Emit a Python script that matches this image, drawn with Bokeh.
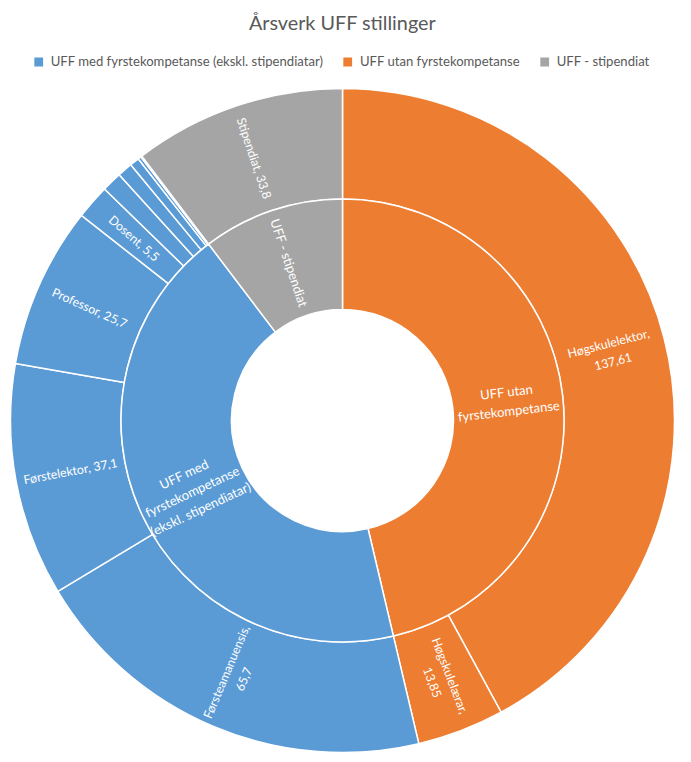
import numpy as np
from bokeh.plotting import figure
from bokeh.models import ColumnDataSource, Range1d, Label, Legend, LegendItem
from bokeh.core.properties import value
from bokeh.embed import file_html
from bokeh.resources import INLINE

# ---------------- data ----------------
chart_title = "Årsverk UFF stillinger"

groups = ["UFF utan fyrstekompetanse",
          "UFF med fyrstekompetanse (ekskl. stipendiatar)",
          "UFF - stipendiat"]
group_labels = ["UFF utan\nfyrstekompetanse",
                "UFF med\nfyrstekompetanse\n(ekskl. stipendiatar)",
                "UFF - stipendiat"]
group_colors = ["#ED7D31", "#5B9BD5", "#A5A5A5"]
legend_order = [1, 0, 2]

outer_names = ["Høgskulelektor", "Høgskulelærar", "Førsteamanuensis",
               "Førstelektor", "Professor", "Dosent", "Forskar",
               "Universitetslektor", "Professor II", "Førsteamanuensis II",
               "Dosent II", "Stipendiat"]
outer_values = [137.61, 13.85, 65.7, 37.1, 25.7, 5.5, 3.2, 2.4, 1.5, 0.5, 0.2, 33.8]
outer_group = [0, 0, 1, 1, 1, 1, 1, 1, 1, 1, 1, 2]
outer_wrap = [True, True, True, False, False, False, False, False, False, False, False, False]

# ---------------- geometry / style ----------------
R0, R1, R2 = 111, 221.5, 332
CX, CY = 342, 420          # centre, px from top-left of the figure
W, H = 682, 756
FONT = "Lato"
TXT = "#595959"


def fmt(v):
    return ("%g" % v).replace(".", ",")


def ring(values):
    vals = np.asarray(values, dtype=float)
    total = vals.sum()
    cum = np.concatenate([[0.0], np.cumsum(vals)])
    start = np.pi / 2 - 2 * np.pi * cum[:-1] / total
    end = np.pi / 2 - 2 * np.pi * cum[1:] / total
    mid = (start + end) / 2
    rot = np.where(np.cos(mid) >= 0, mid, mid + np.pi)
    return start, end, mid, rot


inner_values = [sum(v for v, g in zip(outer_values, outer_group) if g == k) for k in range(len(groups))]

o_start, o_end, o_mid, o_rot = ring(outer_values)
i_start, i_end, i_mid, i_rot = ring(inner_values)

outer_text = []
for n, v, w in zip(outer_names, outer_values, outer_wrap):
    if v < 5:
        outer_text.append("")
    else:
        outer_text.append(f"{n},{chr(10) if w else ' '}{fmt(v)}")

rm_o = (R1 + R2) / 2
rm_i = (R0 + R1) / 2

outer_src = ColumnDataSource(dict(
    start=o_start, end=o_end,
    color=[group_colors[g] for g in outer_group],
    tx=rm_o * np.cos(o_mid), ty=rm_o * np.sin(o_mid),
    rot=o_rot, text=outer_text))
inner_src = ColumnDataSource(dict(
    start=i_start, end=i_end, color=group_colors,
    tx=rm_i * np.cos(i_mid), ty=rm_i * np.sin(i_mid),
    rot=i_rot, text=group_labels))

p = figure(width=W, height=H, output_backend="svg", toolbar_location=None,
           x_range=Range1d(-CX, W - CX), y_range=Range1d(-(H - CY), CY),
           min_border=0, outline_line_color=None)
p.axis.visible = False
p.grid.visible = False

p.annular_wedge(x=0, y=0, inner_radius=R1, outer_radius=R2,
                start_angle="start", end_angle="end", direction="clock",
                fill_color="color", line_color="white", line_width=1.5,
                source=outer_src)
p.annular_wedge(x=0, y=0, inner_radius=R0, outer_radius=R1,
                start_angle="start", end_angle="end", direction="clock",
                fill_color="color", line_color="white", line_width=1.5,
                source=inner_src)

p.text(x="tx", y="ty", text="text", angle="rot", source=outer_src,
       text_align="center", text_baseline="middle",
       text_color="white", text_font=value(FONT),
       text_font_size="12.3px", text_line_height=1.25)
p.text(x="tx", y="ty", text="text", angle="rot", source=inner_src,
       text_align="center", text_baseline="middle",
       text_color="white", text_font=value(FONT),
       text_font_size="13px", text_line_height=1.2)

# legend with square swatches (glyphs placed outside the visible range)
items = []
for k in legend_order:
    r = p.quad(left=[5000], right=[5001], top=[5001], bottom=[5000],
               fill_color=group_colors[k], line_color=None)
    items.append(LegendItem(label=groups[k], renderers=[r]))

legend = Legend(items=items, orientation="horizontal", location="top_center",
                margin=52, padding=0, spacing=19, label_standoff=7,
                glyph_width=11, glyph_height=11, label_height=18,
                border_line_color=None, background_fill_alpha=0,
                label_text_font=FONT, label_text_font_size="13.1px",
                label_text_color=TXT)
p.add_layout(legend, "center")

p.add_layout(Label(x=CX, y=H - 21, x_units="screen", y_units="screen",
                   text=chart_title, text_align="center", text_baseline="middle",
                   text_font=FONT, text_font_size="19.8px", text_color=TXT))

open("out.html", "w").write(file_html(p, INLINE))
